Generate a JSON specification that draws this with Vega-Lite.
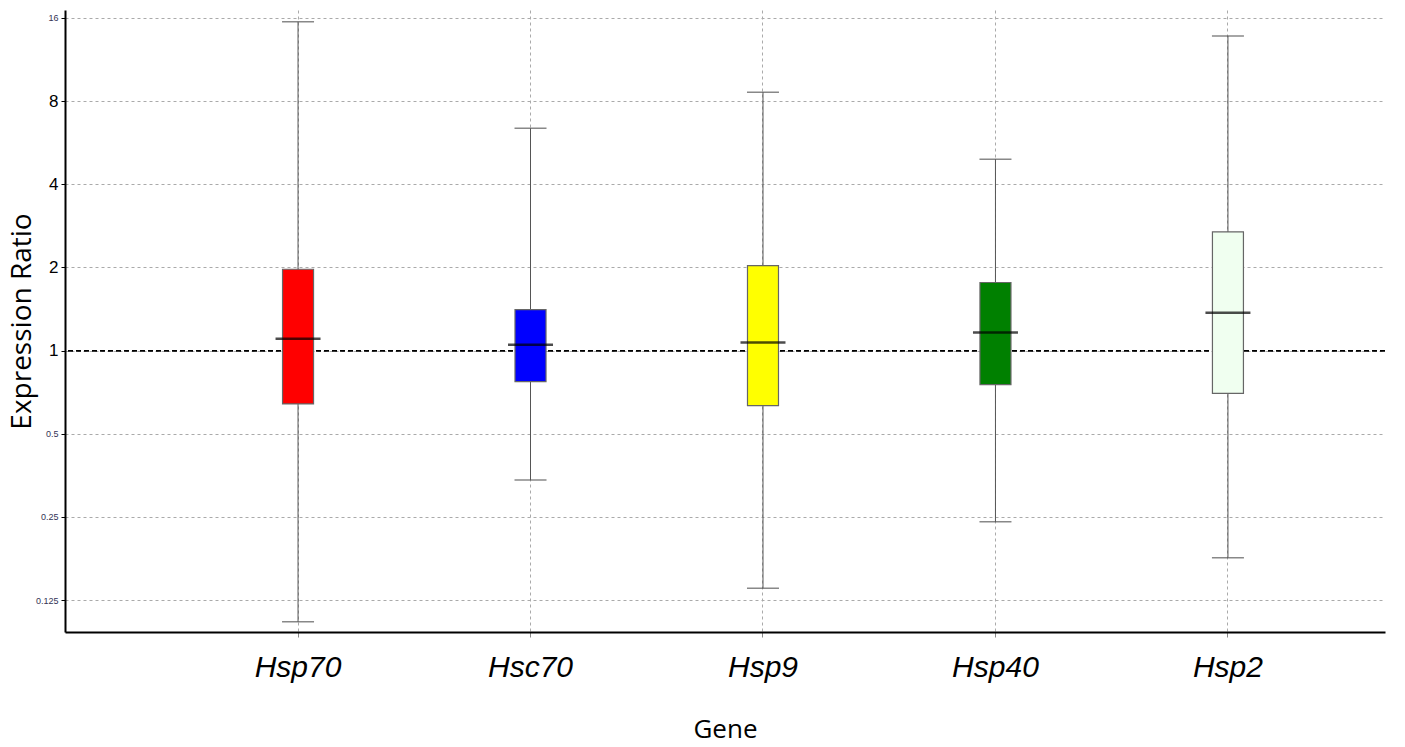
{
  "$schema": "https://vega.github.io/schema/vega-lite/v6.json",
  "autosize": "none",
  "width": 1320,
  "height": 622,
  "padding": {"left": 65, "top": 10, "right": 20, "bottom": 115},
  "background": "white",
  "config": {
    "view": {"stroke": null},
    "axis": {"domainColor": "black", "tickColor": "black"}
  },
  "data": {
    "values": [
      {"gene": "Hsp70", "lo": 0.1043, "q1": 0.641, "median": 1.104, "q3": 1.97, "hi": 15.5},
      {"gene": "Hsc70", "lo": 0.340, "q1": 0.772, "median": 1.051, "q3": 1.408, "hi": 6.38},
      {"gene": "Hsp9", "lo": 0.138, "q1": 0.632, "median": 1.069, "q3": 2.03, "hi": 8.62},
      {"gene": "Hsp40", "lo": 0.240, "q1": 0.753, "median": 1.162, "q3": 1.764, "hi": 4.93},
      {"gene": "Hsp2", "lo": 0.178, "q1": 0.700, "median": 1.372, "q3": 2.69, "hi": 13.78}
    ]
  },
  "encoding": {
    "x": {
      "field": "gene",
      "type": "nominal",
      "sort": null,
      "scale": {
        "domain": ["Hsp70", "Hsc70", "Hsp9", "Hsp40", "Hsp2"],
        "paddingInner": 0,
        "paddingOuter": 0.339,
        "align": 0.741
      },
      "axis": {
        "title": "Gene",
        "titleFont": "Open Sans",
        "titleFontSize": 26,
        "titleFontWeight": "normal",
        "titleColor": "black",
        "titlePadding": 34,
        "labelFont": "Liberation Sans",
        "labelFontStyle": "italic",
        "labelFontSize": 30,
        "labelColor": "black",
        "labelAngle": 0,
        "labelPadding": 15,
        "tickSize": 5,
        "tickColor": "#888",
        "domainWidth": 2,
        "grid": true,
        "bandPosition": 0.5,
        "gridColor": "#aaaaaa",
        "gridDash": [3, 3],
        "gridWidth": 1
      }
    }
  },
  "layer": [
    {
      "mark": {"type": "rule", "color": "black", "strokeDash": [5, 3], "strokeWidth": 1.2},
      "encoding": {"y": {"datum": 1, "type": "quantitative"}, "x": null}
    },
    {
      "mark": {"type": "rule", "color": "#555555", "strokeWidth": 1},
      "encoding": {
        "y": {
          "field": "lo",
          "type": "quantitative",
          "scale": {"type": "log", "base": 2, "domain": [0.0958, 17.1], "nice": false},
          "axis": {
            "title": "Expression Ratio",
            "titleFont": "Open Sans",
            "titleFontSize": 28,
            "titleFontWeight": "normal",
            "titleColor": "black",
            "titleX": -43,
            "titleBaseline": "middle",
            "values": [0.125, 0.25, 0.5, 1, 2, 4, 8, 16],
            "format": "~g",
            "labelFont": "Liberation Sans",
            "labelFontSize": {"condition": {"test": "datum.value >= 1 && datum.value <= 8", "value": 17}, "value": 9},
            "labelColor": {"condition": {"test": "datum.value >= 1 && datum.value <= 8", "value": "black"}, "value": "#333355"},
            "labelPadding": 3,
            "tickSize": 4,
            "domainWidth": 2,
            "grid": true,
            "gridColor": "#aaaaaa",
            "gridDash": [3, 3],
            "gridWidth": 1
          }
        },
        "y2": {"field": "hi"}
      }
    },
    {
      "mark": {"type": "tick", "color": "#555555", "size": 32, "thickness": 1.5},
      "encoding": {"y": {"field": "hi", "type": "quantitative"}}
    },
    {
      "mark": {"type": "tick", "color": "#555555", "size": 32, "thickness": 1.5},
      "encoding": {"y": {"field": "lo", "type": "quantitative"}}
    },
    {
      "mark": {"type": "bar", "size": 31, "stroke": "#666666", "strokeWidth": 1.2},
      "encoding": {
        "y": {"field": "q1", "type": "quantitative"},
        "y2": {"field": "q3"},
        "color": {
          "field": "gene",
          "type": "nominal",
          "scale": {
            "domain": ["Hsp70", "Hsc70", "Hsp9", "Hsp40", "Hsp2"],
            "range": ["#ff0000", "#0000ff", "#ffff00", "#008000", "#f0fff0"]
          },
          "legend": null
        }
      }
    },
    {
      "mark": {"type": "tick", "color": "black", "size": 45, "thickness": 2.5},
      "encoding": {"y": {"field": "median", "type": "quantitative"}}
    }
  ]
}
